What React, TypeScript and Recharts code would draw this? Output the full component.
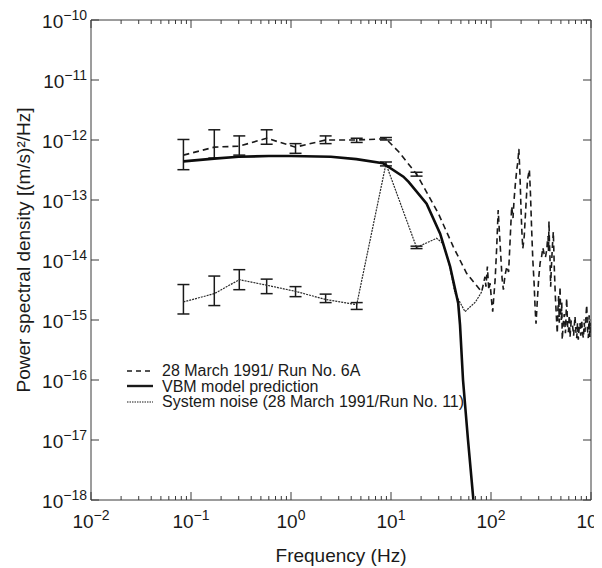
import React from 'react';
import { LineChart, Line, XAxis, YAxis, ErrorBar, Legend } from 'recharts';

// 28 March 1991 / Run No. 6A - points with error bars
const runBarFreq = [0.084, 0.171, 0.304, 0.571, 1.11, 2.22, 4.54, 8.9, 18];
const runBarPsd = [5.6e-13, 7.6e-13, 7.9e-13, 1.07e-12, 7.6e-13, 1.0e-12, 1.0e-12, 1.05e-12, 2.7e-13];
const runBarLow = [3.2e-13, 5.0e-13, 5.6e-13, 8.5e-13, 6.0e-13, 8.7e-13, 9.1e-13, 1.0e-12, 2.5e-13];
const runBarHigh = [1.02e-12, 1.48e-12, 1.17e-12, 1.48e-12, 8.7e-13, 1.17e-12, 1.07e-12, 1.1e-12, 2.9e-13];
// rest of the run 6A trace (no error bars)
const runTraceFreq = [
  12, 20.3, 29.7, 42, 57, 80.7, 84, 87, 89, 92, 95, 98, 101, 104, 107, 110, 114, 118, 121, 125,
  129, 133, 138, 144, 150, 155, 161, 166, 170, 175, 181, 186, 190, 195, 200, 204, 208, 212, 215, 220,
  225, 232, 242, 248, 255, 262, 270, 276, 282, 290, 300, 310, 321, 330, 340, 350, 361, 366, 372, 376,
  380, 384, 388, 392, 395, 400, 405, 412, 420, 430, 440, 450, 460, 467, 475, 482, 490, 497, 505, 510,
  516, 528, 540, 555, 571, 583, 595, 606, 617, 633, 650, 670, 692, 706, 720, 733, 746, 760, 775, 790,
  807, 823, 840, 855, 870, 888, 906, 922, 940, 958, 977, 988, 1000,
];
const runTracePsd = [
  6.3e-13, 1.9e-13, 6.0e-14, 1.66e-14, 6.0e-15, 2.95e-15, 4.0e-15, 5.25e-15, 3.6e-15, 7.8e-15,
  3.2e-15, 4.1e-15, 2.2e-15, 1.38e-15, 2.6e-15, 4.7e-15, 1.6e-14, 6.8e-14, 3.2e-14, 1.26e-14,
  5.0e-15, 3.2e-15, 5.5e-15, 7.8e-15, 6.3e-15, 2.0e-14, 7.8e-14, 5.0e-14, 1.0e-13, 1.8e-13,
  3.2e-13, 4.5e-13, 7.1e-13, 2.5e-13, 6.3e-14, 2.8e-14, 1.55e-14, 2.0e-14, 2.5e-14, 5.0e-14,
  1.0e-13, 2.2e-13, 3.2e-13, 1.3e-13, 3.2e-14, 1.0e-14, 4.0e-15, 1.6e-15, 8.7e-16, 2.0e-15,
  5.0e-15, 9.0e-15, 1.15e-14, 1.6e-14, 1.26e-14, 1.1e-14, 1.48e-14, 2.0e-14, 2.5e-14, 1.4e-14,
  4.4e-14, 2.0e-14, 1.26e-14, 6.0e-15, 3.6e-15, 6.5e-15, 1.0e-14, 1.8e-14, 2.95e-14, 7.0e-15,
  2.5e-15, 1.2e-15, 6.0e-16, 1.5e-15, 2.5e-15, 9.0e-16, 3.6e-15, 1.4e-15, 1.0e-15, 2.0e-15,
  4.7e-16, 9.0e-16, 1.26e-15, 6.0e-16, 2.3e-15, 8.0e-16, 6.3e-16, 1.2e-15, 5.2e-16, 9.5e-16,
  8.9e-16, 5.5e-16, 1.15e-15, 6.5e-16, 5.0e-16, 9.0e-16, 4.7e-16, 7.0e-16, 8.9e-16, 5.5e-16,
  1.0e-15, 6.0e-16, 5.0e-16, 9.0e-16, 6.3e-16, 1.1e-15, 1.78e-15, 7.0e-16, 5.0e-16, 1.2e-15,
  5.2e-16, 9.0e-16, 7.8e-16,
];

// VBM model prediction
const vbmFreq = [0.084, 0.17, 0.3, 0.6, 1, 2.5, 4.5, 8.3, 13.3, 15, 22.7, 31, 39, 47, 49, 52.5, 58.9, 66.5, 70];
const vbmPsd = [
  4.4e-13, 4.9e-13, 5.25e-13, 5.4e-13, 5.4e-13, 5.25e-13, 4.8e-13, 4.1e-13, 2.45e-13, 2.0e-13,
  8.7e-14, 2.75e-14, 7.8e-15, 1.9e-15, 8.3e-16, 1.0e-16, 1.0e-17, 1.05e-18, 5e-19,
];

// System noise (28 March 1991 / Run No. 11)
const noiseBarFreq = [0.084, 0.171, 0.304, 0.571, 1.11, 2.22, 4.54, 8.9, 18];
const noiseBarPsd = [2.0e-15, 2.75e-15, 4.7e-15, 3.8e-15, 3.0e-15, 2.2e-15, 1.8e-15, 4.0e-13, 1.62e-14];
const noiseBarLow = [1.26e-15, 1.74e-15, 3.2e-15, 2.75e-15, 2.45e-15, 1.95e-15, 1.5e-15, 3.7e-13, 1.55e-14];
const noiseBarHigh = [3.9e-15, 5.4e-15, 6.9e-15, 4.8e-15, 3.6e-15, 2.7e-15, 1.95e-15, 4.3e-13, 1.7e-14];
const noiseTraceFreq = [28.6, 33, 38, 43.6, 55, 70, 80.7];
const noiseTracePsd = [2.3e-14, 1.9e-14, 8.9e-15, 2.8e-15, 1.38e-15, 2.0e-15, 2.95e-15];

const xMajor = [-2, -1, 0, 1, 2, 3];
const yMajor = [-18, -17, -16, -15, -14, -13, -12, -11, -10];

const legendItems = [
  { label: '28 March 1991/ Run No. 6A', dash: '5 4', width: 1.4 },
  { label: 'VBM model prediction', dash: undefined, width: 2.4 },
  { label: 'System noise (28 March 1991/Run No. 11)', dash: '1.5 1', width: 1.1 },
];

const INK = '#1a1a1a';
const AXIS = '#3a3a3a';
const FONT = '"Liberation Sans", Arial, Helvetica, sans-serif';

const xTicks: number[] = [];
xMajor.forEach(d => {
  if (d === 3) {
    xTicks.push(Math.pow(10, d));
    return;
  }
  for (let k = 1; k <= 9; k++) xTicks.push(k * Math.pow(10, d));
});
const yTicks = yMajor.map(e => Math.pow(10, e));
const xDomain = [xTicks[0], xTicks[xTicks.length - 1]];
const yDomain = [yTicks[0], yTicks[yTicks.length - 1]];

const withBars = (f: number[], p: number[], lo: number[], hi: number[]) =>
  f.map((x, i) => ({ f: x, p: p[i], err: [p[i] - lo[i], hi[i] - p[i]] }));
const plain = (f: number[], p: number[]) => f.map((x, i) => ({ f: x, p: p[i] }));

const runData = [...withBars(runBarFreq, runBarPsd, runBarLow, runBarHigh), ...plain(runTraceFreq, runTracePsd)].sort(
  (a, b) => a.f - b.f,
);
const noiseData = [
  ...withBars(noiseBarFreq, noiseBarPsd, noiseBarLow, noiseBarHigh),
  ...plain(noiseTraceFreq, noiseTracePsd),
].sort((a, b) => a.f - b.f);
const vbmData = plain(vbmFreq, vbmPsd);

const isDecade = (v: number) => Math.abs(Math.log10(v) - Math.round(Math.log10(v))) < 1e-6;
const expText = (v: number) => {
  const e = Math.round(Math.log10(v));
  return e < 0 ? '\u2212' + Math.abs(e) : String(e);
};

const BottomTick = ({ x, y, payload }: any) => {
  const major = isDecade(payload.value);
  return (
    <g>
      <line x1={x} y1={y} x2={x} y2={y - (major ? 8 : 4)} stroke={AXIS} />
      {major && (
        <text x={x} y={y + 28} textAnchor="middle" fontSize={19} fill={INK} fontFamily={FONT}>
          10
          <tspan dy={-8} fontSize={14}>
            {expText(payload.value)}
          </tspan>
        </text>
      )}
    </g>
  );
};

const TopTick = ({ x, y, payload }: any) => (
  <line x1={x} y1={y} x2={x} y2={y + (isDecade(payload.value) ? 8 : 4)} stroke={AXIS} />
);

const LeftTick = ({ x, y, payload }: any) => (
  <g>
    <line x1={x} y1={y} x2={x + 8} y2={y} stroke={AXIS} />
    <text x={x - 4} y={y + 8} textAnchor="end" fontSize={19} fill={INK} fontFamily={FONT}>
      10
      <tspan dy={-8} fontSize={14}>
        {expText(payload.value)}
      </tspan>
    </text>
  </g>
);

const RightTick = ({ x, y }: any) => <line x1={x} y1={y} x2={x - 8} y2={y} stroke={AXIS} />;

const YTitle = ({ viewBox }: any) => {
  const cx = viewBox.x - 8;
  const cy = viewBox.y + viewBox.height / 2 - 10;
  return (
    <text
      x={cx}
      y={cy}
      transform={`rotate(-90 ${cx} ${cy})`}
      textAnchor="middle"
      dominantBaseline="central"
      fontSize={19}
      fill={INK}
      fontFamily={FONT}
    >
      Power spectral density [(m/s)²/Hz]
    </text>
  );
};

const XTitle = ({ viewBox }: any) => (
  <text
    x={viewBox.x + viewBox.width / 2}
    y={viewBox.y + 62}
    textAnchor="middle"
    fontSize={19}
    fill={INK}
    fontFamily={FONT}
  >
    Frequency (Hz)
  </text>
);

const renderLegend = () => (
  <div style={{ fontFamily: FONT, fontSize: 16, color: INK, lineHeight: '15.5px' }}>
    {legendItems.map(item => (
      <div key={item.label} style={{ display: 'flex', alignItems: 'center', height: 15.5 }}>
        <svg width={28} height={10} style={{ marginRight: 7 }}>
          <line x1={0} y1={5} x2={26} y2={5} stroke={INK} strokeWidth={item.width} strokeDasharray={item.dash} />
        </svg>
        <span style={{ whiteSpace: 'nowrap' }}>{item.label}</span>
      </div>
    ))}
  </div>
);

export default function App() {
  return (
    <LineChart width={594} height={560} margin={{ top: 10, right: 6, bottom: 0, left: 23 }}>
      <XAxis
        dataKey="f"
        type="number"
        scale="log"
        domain={xDomain}
        allowDataOverflow
        ticks={xTicks}
        interval={0}
        tickSize={0}
        tickMargin={0}
        tickLine={false}
        tick={<BottomTick />}
        height={68}
        stroke={AXIS}
        label={<XTitle />}
      />
      <XAxis
        xAxisId="top"
        orientation="top"
        dataKey="f"
        type="number"
        scale="log"
        domain={xDomain}
        allowDataOverflow
        ticks={xTicks}
        interval={0}
        tickSize={0}
        tickMargin={0}
        tickLine={false}
        tick={<TopTick />}
        height={2}
        stroke={AXIS}
      />
      <YAxis
        type="number"
        scale="log"
        domain={yDomain}
        allowDataOverflow
        ticks={yTicks}
        interval={0}
        tickSize={0}
        tickMargin={0}
        tickLine={false}
        tick={<LeftTick />}
        width={60}
        stroke={AXIS}
        label={<YTitle />}
      />
      <YAxis
        yAxisId="right"
        orientation="right"
        type="number"
        scale="log"
        domain={yDomain}
        allowDataOverflow
        ticks={yTicks}
        interval={0}
        tickSize={0}
        tickMargin={0}
        tickLine={false}
        tick={<RightTick />}
        width={5}
        stroke={AXIS}
      />
      <Line
        data={noiseData}
        dataKey="p"
        name="System noise (28 March 1991/Run No. 11)"
        stroke="#2a2a2a"
        strokeWidth={1.2}
        strokeDasharray="2 1"
        dot={false}
        isAnimationActive={false}
      >
        <ErrorBar dataKey="err" width={6} stroke={INK} strokeWidth={1.5} direction="y" isAnimationActive={false} />
      </Line>
      <Line
        data={runData}
        dataKey="p"
        name="28 March 1991/ Run No. 6A"
        stroke={INK}
        strokeWidth={1.6}
        strokeDasharray="6 4"
        dot={false}
        isAnimationActive={false}
      >
        <ErrorBar dataKey="err" width={6} stroke={INK} strokeWidth={1.5} direction="y" isAnimationActive={false} />
      </Line>
      <Line
        data={vbmData}
        dataKey="p"
        name="VBM model prediction"
        stroke="#0d0d0d"
        strokeWidth={2.6}
        dot={false}
        isAnimationActive={false}
      />
      <Legend
        layout="vertical"
        align="center"
        verticalAlign="middle"
        content={renderLegend}
        wrapperStyle={{ left: 119, top: 355, width: 'auto', height: 'auto' }}
      />
    </LineChart>
  );
}
